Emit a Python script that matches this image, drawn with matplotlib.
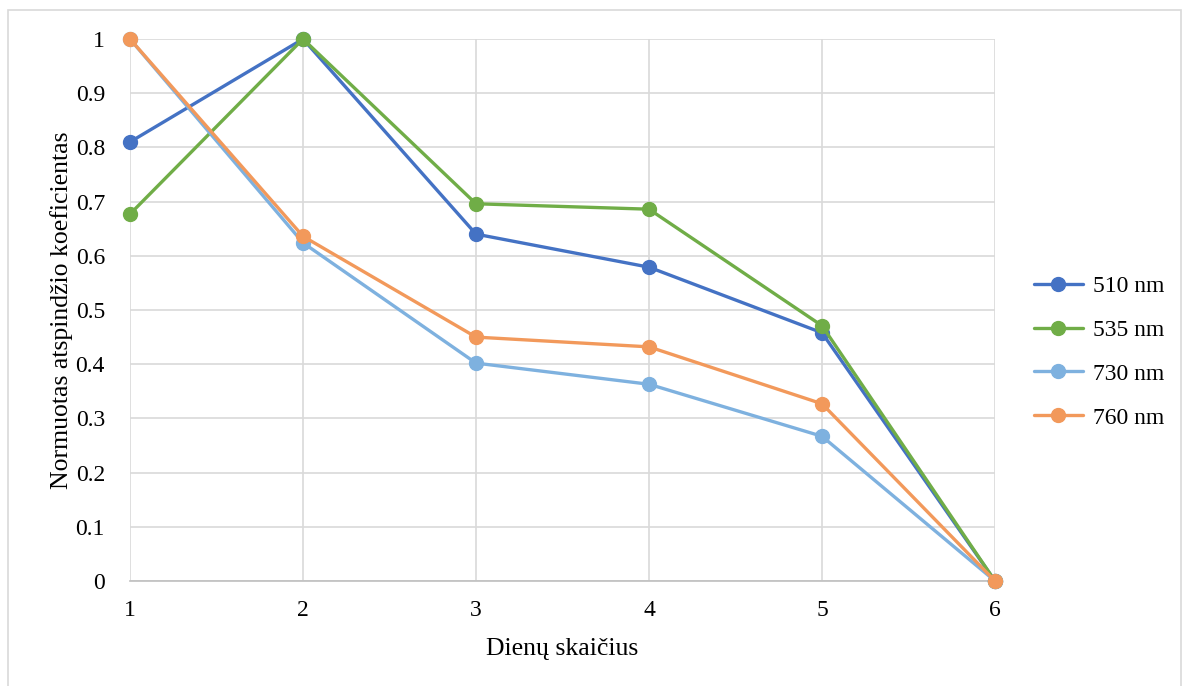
import matplotlib
matplotlib.use("Agg")
import matplotlib.pyplot as plt
from matplotlib.patches import Rectangle

# data
days = [1, 2, 3, 4, 5, 6]
series_names = ["510 nm", "535 nm", "730 nm", "760 nm"]
vals_510 = [0.81, 1.0, 0.640, 0.579, 0.458, 0.0]
vals_535 = [0.677, 1.0, 0.696, 0.686, 0.471, 0.0]
vals_730 = [1.0, 0.624, 0.402, 0.363, 0.267, 0.0]
vals_760 = [1.0, 0.636, 0.450, 0.432, 0.327, 0.0]
colors = ["#4472C4", "#70AD47", "#7EB1DF", "#F2995B"]

plt.rcParams["font.family"] = ["Liberation Serif", "DejaVu Serif"]
plt.rcParams["font.size"] = 17

fig = plt.figure(figsize=(11.89, 6.86), dpi=100)
ax = fig.add_axes([130 / 1189, 1 - 581 / 686, 865 / 1189, 542 / 686])

# light frame around the whole chart area
fig.patches.append(Rectangle((8 / 1189, -0.01), 1173 / 1189, 1 - 10 / 686 + 0.01,
                             transform=fig.transFigure, fill=False,
                             edgecolor="#D9D9D9", linewidth=1.2))

for name, vals, c in zip(series_names, [vals_510, vals_535, vals_730, vals_760], colors):
    ax.plot(days, vals, color=c, linewidth=2.4, marker="o", markersize=10,
            label=name, solid_capstyle="round", clip_on=False, zorder=3)

ax.set_xlim(1, 6)
ax.set_ylim(0, 1)
ax.set_xticks(days)
ax.set_yticks([i / 10 for i in range(11)])
ax.set_yticklabels(["0", "0.1", "0.2", "0.3", "0.4", "0.5", "0.6", "0.7", "0.8", "0.9", "1"])
ax.grid(True, color="#D9D9D9", linewidth=1.2)
ax.set_axisbelow(True)
for side in ["top", "right", "left"]:
    ax.spines[side].set_visible(False)
ax.spines["bottom"].set_color("#BFBFBF")
ax.spines["bottom"].set_linewidth(1.2)
ax.tick_params(length=0, colors="black", labelsize=17)
ax.tick_params(axis="y", pad=18)
ax.tick_params(axis="x", pad=14)

ax.set_xlabel("Dienų skaičius", fontsize=18.5, labelpad=12)
ax.set_ylabel("Normuotas atspindžio koeficientas", fontsize=18.5, labelpad=2)

ax.legend(loc="center left", bbox_to_anchor=(1.02, 0.4225), frameon=False,
          fontsize=17, handlelength=2.1, labelspacing=0.95, handletextpad=0.4)

fig.savefig("out.png", dpi=100)
